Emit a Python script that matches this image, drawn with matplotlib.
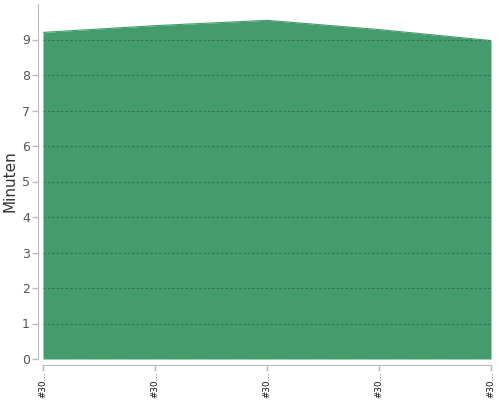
import matplotlib
matplotlib.use("Agg")
import matplotlib.pyplot as plt

categories = ["#30...", "#30...", "#30...", "#30...", "#30..."]
values = [9.2, 9.39, 9.54, 9.28, 8.97]
y_ticks = [0, 1, 2, 3, 4, 5, 6, 7, 8, 9]

fig = plt.figure(figsize=(5, 4), dpi=100)
ax = fig.add_axes([0.086, 0.1025, 0.896, 0.8875])

for s in ["top", "right"]:
    ax.spines[s].set_visible(False)
ax.spines["left"].set_position(("outward", 3.5))
ax.spines["bottom"].set_position(("outward", 4))
ax.spines["left"].set_color("#bbbbbb")
ax.spines["bottom"].set_color("#bbbbbb")

x = list(range(len(values)))
ax.fill_between(x, 0, values, color="#449c6d", linewidth=0, zorder=1)
ax.plot(x, values, color="#449c6d", linewidth=0.8, zorder=1)

ax.set_xlim(0, len(values) - 1)
ax.set_ylim(0, 10)
ax.spines["left"].set_bounds(0, 10)
ax.set_yticks(y_ticks)
ax.set_xticks(x)
ax.set_xticklabels(categories, rotation=90, fontsize=6.3, color="#111111")
ax.tick_params(axis="y", labelsize=9, labelcolor="#555555", color="#bbbbbb", length=4, width=1, pad=2)
ax.tick_params(axis="x", color="#bbbbbb", length=4, width=1, pad=1)

ax.grid(axis="y", linestyle=(0, (2, 2)), color="#000000", alpha=0.25, linewidth=0.8, zorder=2)
ax.set_axisbelow(False)

ax.set_ylabel("Minuten", fontsize=11, color="#333333")
ax.yaxis.set_label_coords(-0.058, 0.5)

fig.savefig("out.png", dpi=100)
